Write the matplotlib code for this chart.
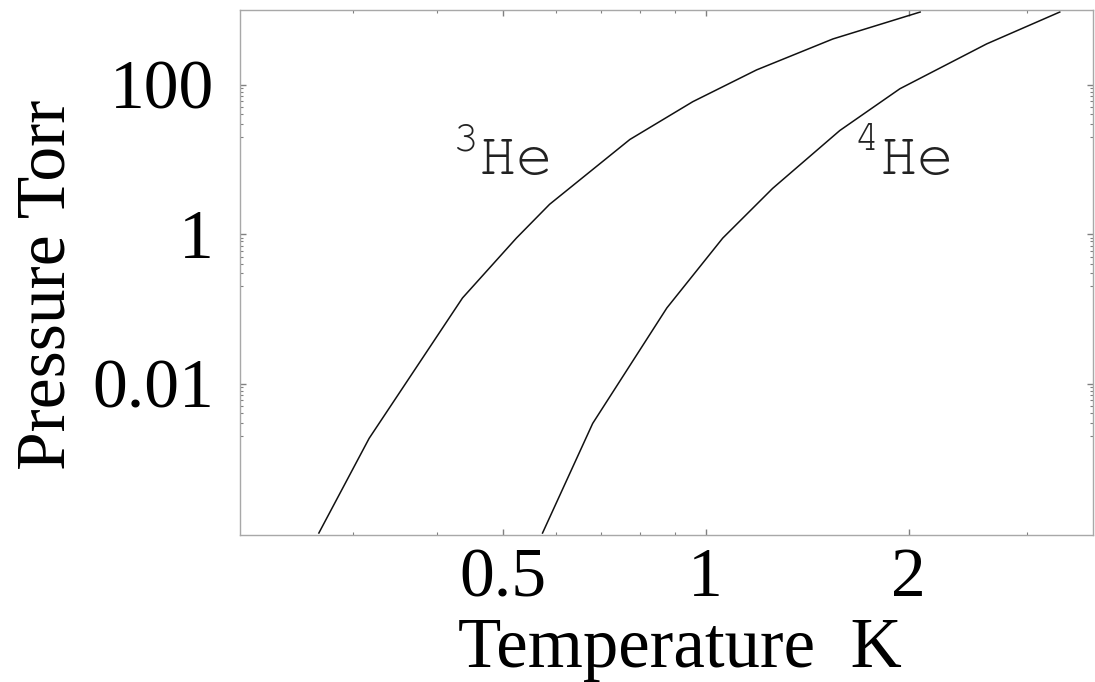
import matplotlib
matplotlib.use("Agg")
import matplotlib.pyplot as plt
from matplotlib.ticker import FixedLocator, NullFormatter, FixedFormatter

# Vapor pressure curves (temperature in K, pressure in Torr)
he3_T = [0.267, 0.317, 0.436, 0.524, 0.587, 0.772, 0.957, 1.19, 1.544, 2.08]
he3_P = [1.0e-4, 1.85e-3, 0.140, 0.885, 2.51, 18.5, 59.3, 158.0, 410.0, 940.0]

he4_T = [0.573, 0.680, 0.876, 1.06, 1.257, 1.581, 1.941, 2.61, 3.35]
he4_P = [1.0e-4, 2.93e-3, 0.103, 0.885, 4.1, 24.4, 88.4, 352.0, 940.0]

x_major = [0.5, 1, 2]
x_major_labels = ["0.5", "1", "2"]
x_minor = [0.3, 0.4, 0.6, 0.7, 0.8, 0.9, 3]
y_major = [0.01, 1, 100]
y_major_labels = ["0.01", "1", "100"]
y_minor = [0.002, 0.003, 0.004, 0.005, 0.006, 0.007, 0.008, 0.009,
           0.2, 0.3, 0.4, 0.5, 0.6, 0.7, 0.8, 0.9,
           20, 30, 40, 50, 60, 70, 80, 90]

serif = ["Liberation Serif", "DejaVu Serif"]
mono = ["FreeMono", "Courier Prime", "DejaVu Sans Mono"]

fig = plt.figure(figsize=(10.95, 6.82), dpi=100)
ax = fig.add_axes([0.2192, 0.2155, 0.7788, 0.7698])

ax.plot(he3_T, he3_P, color="#111111", lw=1.1, solid_joinstyle="miter")
ax.plot(he4_T, he4_P, color="#111111", lw=1.1, solid_joinstyle="miter")

ax.set_xscale("log")
ax.set_yscale("log")
ax.set_xlim(0.204, 3.75)
ax.set_ylim(9.4e-5, 1000)

ax.xaxis.set_major_locator(FixedLocator(x_major))
ax.xaxis.set_major_formatter(FixedFormatter(x_major_labels))
ax.xaxis.set_minor_locator(FixedLocator(x_minor))
ax.xaxis.set_minor_formatter(NullFormatter())
ax.yaxis.set_major_locator(FixedLocator(y_major))
ax.yaxis.set_major_formatter(FixedFormatter(y_major_labels))
ax.yaxis.set_minor_locator(FixedLocator(y_minor))
ax.yaxis.set_minor_formatter(NullFormatter())

for s in ax.spines.values():
    s.set_color("#a8a8a8")
    s.set_linewidth(1.0)

ax.tick_params(which="both", direction="in", top=True, right=True, color="#808080")
ax.tick_params(which="major", length=4, width=1.0)
ax.tick_params(which="minor", length=2.5, width=0.8)
ax.tick_params(axis="x", which="major", pad=9)
ax.tick_params(axis="y", which="major", pad=19)
for lab in ax.get_xticklabels() + ax.get_yticklabels():
    lab.set_family(serif)
    lab.set_fontsize(50)

fig.text(0.621, 0.0, "Temperature  K", family=serif, fontsize=51,
         ha="center", va="bottom")
fig.text(0.015, 0.582, "Pressure Torr", family=serif, fontsize=50,
         rotation=90, ha="left", va="center")

# isotope labels
ax.text(0.280, 0.687, "He", transform=ax.transAxes, family=mono,
        fontsize=45, ha="left", va="baseline", color="#222222")
ax.text(0.250, 0.733, "3", transform=ax.transAxes, family=mono,
        fontsize=31, ha="left", va="baseline", color="#222222")
ax.text(0.750, 0.687, "He", transform=ax.transAxes, family=mono,
        fontsize=45, ha="left", va="baseline", color="#222222")
ax.text(0.719, 0.733, "4", transform=ax.transAxes, family=mono,
        fontsize=31, ha="left", va="baseline", color="#222222")

fig.savefig("out.png", dpi=100, facecolor="white")
